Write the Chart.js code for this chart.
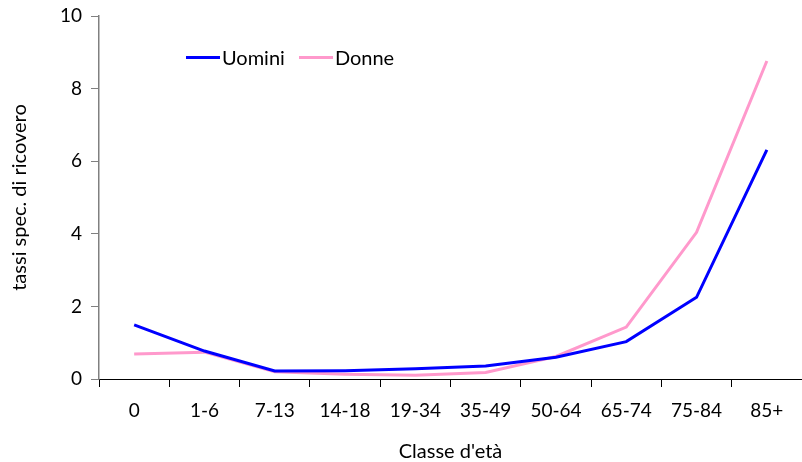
<!DOCTYPE html>
<html>
<head>
<meta charset="utf-8">
<script src="https://cdn.jsdelivr.net/npm/chart.js@4"></script>
<style>
  body { margin: 0; background: #fff; }
  #wrap { position: relative; width: 802px; height: 462px; }
  #legend { position: absolute; left: 186px; top: 45px; display: flex; font: 20px/24px Lato, sans-serif; color: #000; }
  .item { display: flex; align-items: center; margin-right: 14px; }
  .swatch { width: 34px; height: 3px; margin-right: 2px; }
</style>
</head>
<body>
<div id="wrap">
  <canvas id="chart" width="802" height="462"></canvas>
  <div id="legend"></div>
</div>
<script>
const categories = ["0", "1-6", "7-13", "14-18", "19-34", "35-49", "50-64", "65-74", "75-84", "85+"];
const uomini = [1.49, 0.77, 0.22, 0.23, 0.28, 0.36, 0.6, 1.03, 2.25, 6.31];
const donne = [0.69, 0.74, 0.2, 0.13, 0.1, 0.18, 0.62, 1.43, 4.04, 8.76];
const yTicks = [0, 2, 4, 6, 8, 10];

const FONT = "Lato, sans-serif";

const datasets = [
  { label: "Uomini", data: uomini, borderColor: "#0000ff" },
  { label: "Donne", data: donne, borderColor: "#ff99cc" }
].map(d => ({ ...d, borderWidth: 3, pointRadius: 0, tension: 0, fill: false }));

const chart = new Chart(document.getElementById("chart"), {
  type: "line",
  data: { labels: categories, datasets: datasets },
  options: {
    responsive: false,
    animation: false,
    layout: { padding: 0 },
    plugins: { legend: { display: false }, tooltip: { enabled: false } },
    scales: {
      x: {
        offset: true,
        afterFit: (axis) => { axis.height = 83; },
        grid: { offset: true, drawOnChartArea: false, drawTicks: true, tickLength: 8, color: "#000" },
        border: { color: "#000", width: 1 },
        ticks: { color: "#000", font: { family: FONT, size: 19 }, padding: 12, maxRotation: 0 },
        title: { display: true, text: "Classe d'età", color: "#000", font: { family: FONT, size: 20 }, padding: { top: 0, bottom: -2 } }
      },
      y: {
        min: 0,
        max: 10,
        afterFit: (axis) => { axis.width = 99; axis.paddingTop = 16; },
        afterBuildTicks: (axis) => { axis.ticks = yTicks.map(v => ({ value: v })); },
        grid: { drawOnChartArea: false, drawTicks: true, tickLength: 8, color: "#808080" },
        border: { color: "#808080", width: 1.5 },
        ticks: { color: "#000", font: { family: FONT, size: 19 }, padding: 9 },
        title: { display: true, text: "tassi spec. di ricovero", color: "#000", font: { family: FONT, size: 20 }, padding: { top: 8, bottom: 0 } }
      }
    }
  }
});

const legend = document.getElementById("legend");
chart.data.datasets.forEach(ds => {
  const item = document.createElement("div");
  item.className = "item";
  item.innerHTML = `<span class="swatch" style="background:${ds.borderColor}"></span><span>${ds.label}</span>`;
  legend.appendChild(item);
});
</script>
</body>
</html>
